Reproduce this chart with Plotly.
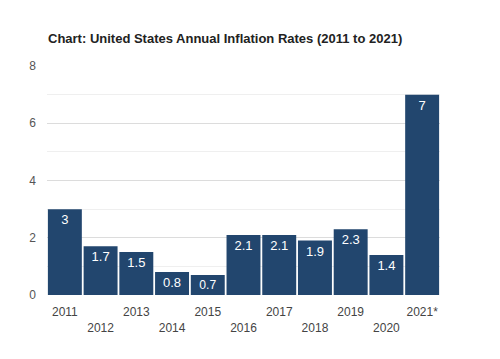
import plotly.graph_objects as go

years = ["2011", "2012", "2013", "2014", "2015", "2016", "2017", "2018", "2019", "2020", "2021*"]
rates = [3, 1.7, 1.5, 0.8, 0.7, 2.1, 2.1, 1.9, 2.3, 1.4, 7]
tick_text = [y if i % 2 == 0 else "<br>" + y for i, y in enumerate(years)]
y_ticks = [0, 2, 4, 6, 8]

fig = go.Figure(go.Bar(
    x=years, y=rates,
    marker=dict(color="#22466e", line=dict(color="#ffffff", width=0)),
    text=[str(r) for r in rates],
    textposition="inside", insidetextanchor="end",
    textfont=dict(color="white", size=13, family="Arial, Liberation Sans"),
    textangle=0,
))

fig.update_layout(
    width=500, height=359,
    margin=dict(l=39, r=68, t=58, b=72),
    paper_bgcolor="white", plot_bgcolor="white",
    bargap=0.05,
    showlegend=False,
    font=dict(family="Arial, Liberation Sans", color="#444"),
    title=dict(text="<b>Chart: United States Annual Inflation Rates (2011 to 2021)</b>",
               x=40/500, xanchor="left", xref="container",
               y=1 - 30/359, yanchor="middle", yref="container",
               font=dict(size=13, color="#222", family="Arial, Liberation Sans")),
    xaxis=dict(tickmode="array", tickvals=years, ticktext=tick_text,
               tickfont=dict(size=12, color="#444"), showgrid=False,
               showline=False, ticks="", ticklabelstandoff=8, automargin=False),
    yaxis=dict(range=[0, 8], tickvals=y_ticks, showgrid=True, gridcolor="#dcdcdc",
               gridwidth=1, zeroline=False, tickfont=dict(size=12, color="#555"),
               ticklabelstandoff=10, automargin=False,
               minor=dict(dtick=1, showgrid=True, gridcolor="#efefef", gridwidth=1)),
)

fig.write_html("out.html")
